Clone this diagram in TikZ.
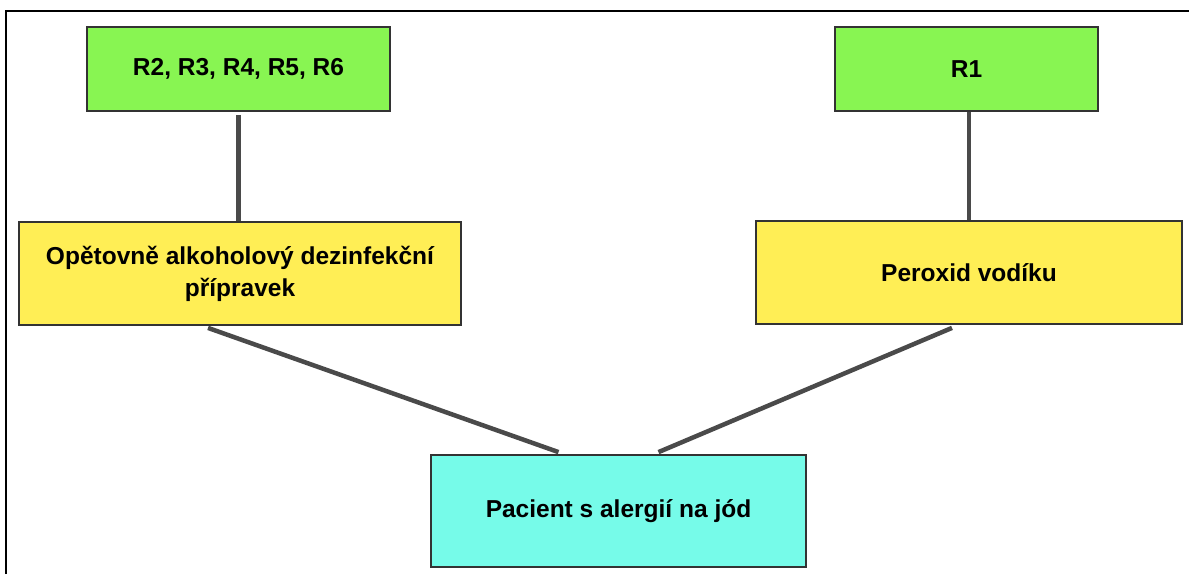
\documentclass[tikz,border=0pt]{standalone}
\usepackage{fontspec}
\setmainfont{Liberation Sans}
\usetikzlibrary{calc}
\definecolor{boxgreen}{HTML}{88F552}
\definecolor{boxyellow}{HTML}{FFEE55}
\definecolor{boxcyan}{HTML}{76FBE9}
\definecolor{edgegray}{HTML}{333333}
\definecolor{conngray}{HTML}{4A4A4A}
\begin{document}
\begin{tikzpicture}[x=1pt,y=-1pt,
  box/.style={draw=edgegray, line width=1.8pt, rectangle, inner sep=0pt, align=center,
    font=\fontsize{24.5}{32}\selectfont\bfseries},
  gbox/.style={box, fill=boxgreen, minimum height=84pt},
  ybox/.style={box, fill=boxyellow, minimum height=103pt},
  cbox/.style={box, fill=boxcyan},
  conn/.style={draw=conngray, line width=4.5pt},
  frame/.style={draw=black, line width=2pt}]
\useasboundingbox (0,0) rectangle (1189,574);
\coordinate (ftl) at (6,11);
\coordinate (ftr) at (1189,11);
\coordinate (fbl) at (6,574);
\draw[frame] (fbl) -- (ftl) -- (ftr);
\node[gbox, minimum width=303pt] (g1) at (238.5,69) {R2, R3, R4, R5, R6};
\node[gbox, minimum width=263pt] (g2) at (966.5,69) {R1};
\node[ybox, minimum width=442pt] (y1) at (240,273.5) {Opětovně alkoholový dezinfekční\\přípravek};
\node[ybox, minimum width=426pt] (y2) at (969,272.5) {Peroxid vodíku};
\node[cbox, minimum width=375pt, minimum height=112pt] (c) at (618.5,511) {Pacient s alergií na jód};
\draw[conn] ([yshift=-3pt]g1.south) -- (g1.south |- y1.north);
\draw[conn] (g2.south -| y2.north) -- (y2.north);
\draw[conn] ([xshift=-32pt,yshift=-2pt]y1.south) -- ([xshift=-60pt,yshift=2pt]c.north);
\draw[conn] ([xshift=-17pt,yshift=-3pt]y2.south) -- ([xshift=40pt,yshift=2pt]c.north);
\end{tikzpicture}
\end{document}
